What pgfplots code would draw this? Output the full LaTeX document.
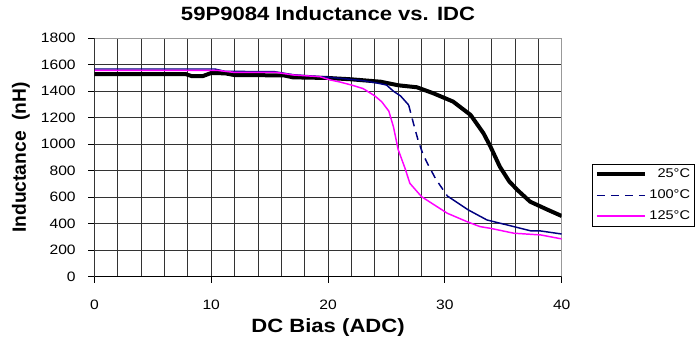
\documentclass[border=0pt]{standalone}
\usepackage{fontspec}
\setmainfont{Liberation Sans}[FakeStretch=1.15]
\newfontfamily\plainsans{Liberation Sans}
\usepackage{pgfplots}
\pgfplotsset{compat=1.18}
\definecolor{navyc}{RGB}{0,0,128}
\definecolor{magc}{RGB}{255,0,255}
\begin{document}
\begin{tikzpicture}
\useasboundingbox (-70.8pt,-46.7pt) rectangle (451.95pt,207.5pt);
\begin{axis}[
  scale only axis, width=350.5pt, height=178.8pt,
  xmin=0, xmax=40, ymin=0, ymax=1800,
  xtick={0,10,20,30,40}, minor xtick={2,4,...,38},
  ytick={0,200,...,1800},
  grid=both,
  major grid style={black!80, line width=0.6pt},
  minor grid style={black!80, line width=0.6pt},
  tick align=outside, major tick length=4.5pt, minor tick length=0pt,
  tick style={black, line width=0.6pt},
  xtick pos=bottom, ytick pos=left,
  axis line style={black!40, line width=0.75pt},
  /pgf/number format/assume math mode=true,
  /pgf/number format/1000 sep={},
  ticklabel style={font=\fontsize{10.2}{12}\selectfont},
  xticklabel style={yshift=-9.5pt},
  yticklabel style={xshift=-6pt},
  title={59P9084 Inductance vs. IDC},
  title style={font=\fontsize{14.4}{16}\selectfont\bfseries, at={([yshift=7.5pt]axis description cs:0.5,1)}, anchor=base},
  xlabel={DC Bias (ADC)},
  xlabel style={font=\fontsize{14.4}{16}\selectfont\bfseries, at={([yshift=-42.2pt]axis description cs:0.5,0)}, anchor=base},
  ylabel={Inductance~~(nH)},
  ylabel style={font=\plainsans\fontsize{14.4}{16}\selectfont\bfseries, at={([xshift=-51.3pt]axis description cs:0,0.5)}, anchor=base, rotate=0},
  legend style={at={(1.2855,0.4727)}, anchor=north east, draw=black, line width=0.6pt,
    font=\fontsize{9.5}{11}\selectfont, row sep=3.5pt, inner sep=1.5pt},
  legend cell align=right,
  legend image code/.code={\draw[#1] (0pt,0pt) -- (36pt,0pt);},
]
\addplot[black, line width=3pt] coordinates {
(0,1530)(7.8,1530)(8.3,1515)(9.3,1515)(10,1538)(11.2,1535)(12,1522)(16.2,1520)(17,1505)(20,1500)(22,1490)(24.5,1472)(26,1445)(27.6,1430)(29,1385)(30.7,1322)(32.2,1221)(33.3,1083)(33.9,982)(34.7,831)(35.5,720)(36.2,655)(37.3,566)(38.7,509)(40,458)};
\addlegendentry{25°C}
\addplot[navyc, line width=1.1pt, forget plot] coordinates {
(0,1568)(10.3,1568)(11.2,1550)(15.4,1548)(17,1525)(19.5,1510)(21,1498)(23,1480)(24.2,1462)(25,1447)(25.6,1400)(26.2,1365)(26.9,1296)};
\addplot[navyc, line width=1.1pt, dash pattern=on 6pt off 4.5pt] coordinates {
(26.9,1296)(27.3,1160)(27.7,1032)(28.1,930)(28.5,856)(29.2,740)(30.2,610)};
\addlegendentry{100°C}
\addplot[navyc, line width=1.1pt, forget plot] coordinates {
(30.2,610)(32,504)(33.6,428)(35.9,378)(37.4,345)(38.2,345)(40,322)};
\addplot[magc, line width=1.1pt] coordinates {
(0,1558)(10.5,1558)(11.9,1543)(15.5,1543)(17,1523)(19.3,1510)(20.2,1485)(21,1470)(22,1447)(23,1420)(24,1365)(24.6,1320)(25.2,1250)(25.6,1130)(26,960)(26.6,815)(27,705)(28,604)(30.2,479)(31.9,415)(33,378)(33.9,365)(35.9,328)(38.2,315)(40,285)};
\addlegendentry{125°C}
\draw[black, line width=0.75pt] (rel axis cs:0,1) -- (rel axis cs:0,0) -- (rel axis cs:1,0);
\end{axis}
\end{tikzpicture}
\end{document}
